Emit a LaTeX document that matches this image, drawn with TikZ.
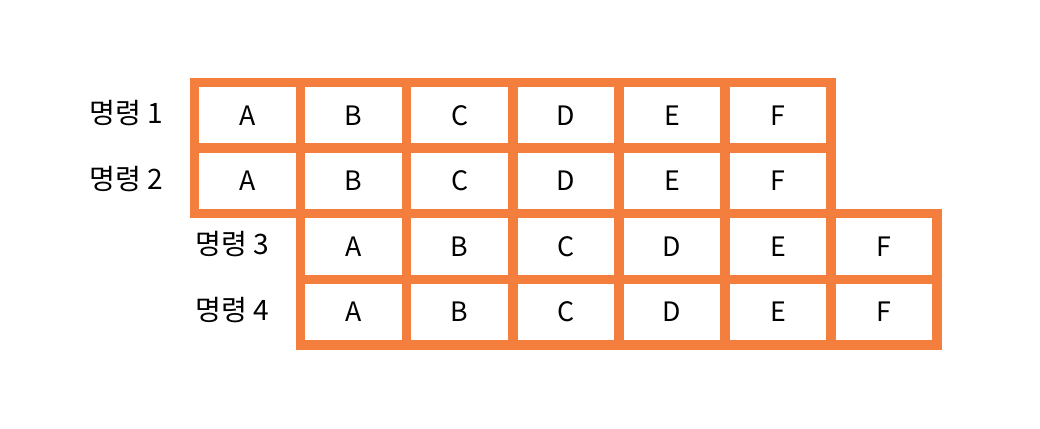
\documentclass[tikz,border=0pt]{standalone}
\usepackage{fontspec}
\setmainfont{Noto Sans CJK KR}
\definecolor{cellorange}{RGB}{243,126,62}

\begin{document}
\begin{tikzpicture}[x=0.025cm, y=-0.025cm,
  cell/.style={draw=cellorange, line width=0.2375cm, minimum width=2.6525cm,
    minimum height=1.64cm, inner sep=0pt, font=\fontsize{19}{19}\selectfont},
  lbl/.style={anchor=east, inner sep=0pt, font=\fontsize{20}{20}\selectfont}]
\useasboundingbox (0,0) rectangle (1040,428);
% rows 3 and 4 start one column later
\foreach \r/\sx in {1/0,2/0,3/1,4/1} {
  \foreach \l [count=\c] in {A,B,C,D,E,F} {
    \node[cell] (c\r\l) at ({194.5+106.1*(\c+\sx-0.5)}, {82.5+65.6*(\r-0.5)}) {\l};
  }
  \node[lbl] (n\r) at ({194.5+106.1*\sx-31}, {82.5+65.6*(\r-0.5)-2}) {명령 \r};
}
\end{tikzpicture}
\end{document}
